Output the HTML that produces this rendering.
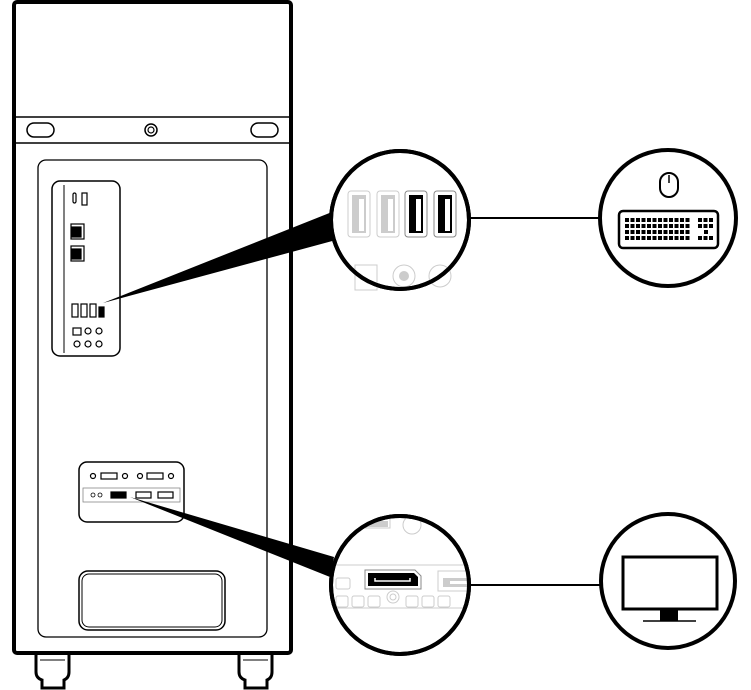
<!DOCTYPE html>
<html><head><style>body{margin:0;background:#fff}svg{display:block}</style></head><body>
<svg width="751" height="690" viewBox="0 0 751 690" xmlns="http://www.w3.org/2000/svg" fill="none" stroke="#000">
<defs><clipPath id="c2"><circle cx="400" cy="585" r="68"/></clipPath></defs>
<!-- wheels -->
<g stroke-width="3" fill="#fff">
<path d="M36 652 v20 q0 6 6 8 v8 h22 v-8 q5 -2 5 -8 v-20 z"/>
<path d="M239 652 v20 q0 6 6 8 v8 h22 v-8 q5 -2 5 -8 v-20 z"/>
</g>
<g stroke-width="1"><line x1="40" y1="660" x2="65" y2="660"/><line x1="243" y1="660" x2="268" y2="660"/></g>
<!-- case -->
<rect x="14" y="2" width="277" height="651" rx="3" stroke-width="4" fill="#fff"/>
<line x1="14" y1="117" x2="291" y2="117" stroke-width="1.5"/>
<line x1="14" y1="143" x2="291" y2="143" stroke-width="1.5"/>
<rect x="27" y="123" width="27" height="14" rx="7" stroke-width="1.5"/>
<rect x="251" y="123" width="27" height="14" rx="7" stroke-width="1.5"/>
<circle cx="151" cy="130" r="6" stroke-width="1.5"/><circle cx="151" cy="130" r="3" stroke-width="1.2"/>
<rect x="38" y="160" width="229" height="477" rx="8" stroke-width="1.3"/>
<!-- io panel -->
<rect x="52" y="181" width="68" height="175" rx="8" stroke-width="1.5"/>
<line x1="64" y1="185" x2="64" y2="353" stroke-width="1"/>
<g stroke-width="1.2">
<rect x="73" y="193" width="3" height="10" rx="1.5"/>
<rect x="82" y="193" width="5" height="12"/>
<rect x="71" y="224" width="13" height="15"/>
<rect x="72" y="227" width="9" height="10" fill="#000"/>
<rect x="71" y="246" width="13" height="15"/>
<rect x="72" y="249" width="9" height="10" fill="#000"/>
<rect x="72" y="304" width="6" height="13"/><rect x="81" y="304" width="6" height="13"/><rect x="90" y="304" width="6" height="13"/><rect x="99" y="307" width="5" height="10" fill="#000"/>
<rect x="73" y="328" width="8" height="7"/>
<circle cx="88" cy="331" r="3"/><circle cx="99" cy="331" r="3"/>
<circle cx="77" cy="344" r="3"/><circle cx="88" cy="344" r="3"/><circle cx="99" cy="344" r="3"/>
</g>
<!-- gpu panel -->
<rect x="79" y="462" width="105" height="60" rx="8" stroke-width="1.5"/>
<rect x="83" y="488" width="97" height="14" stroke-width="0.8" stroke="#888"/>
<g stroke-width="1.2">
<circle cx="93" cy="476" r="2.5"/><rect x="101" y="473" width="16" height="6"/><circle cx="125" cy="476" r="2.5"/>
<circle cx="140" cy="476" r="2.5"/><rect x="147" y="473" width="16" height="6"/><circle cx="171" cy="476" r="2.5"/>
<rect x="111" y="492" width="15" height="6" fill="#000"/><rect x="136" y="492" width="15" height="6"/><rect x="158" y="492" width="15" height="6"/>
</g>
<g stroke-width="0.8"><circle cx="93" cy="495" r="2"/><circle cx="100" cy="495" r="2"/></g>
<rect x="79" y="571" width="146" height="59" rx="9" stroke-width="1.5"/>
<rect x="82" y="574" width="140" height="53" rx="7" stroke-width="1"/>
<!-- wedges -->
<polygon points="103,303 332,212 336,240" fill="#000" stroke="none"/>
<polygon points="130,497 334,557 330,577" fill="#000" stroke="none"/>
<!-- connectors -->
<line x1="470" y1="218" x2="599" y2="218" stroke-width="2"/>
<line x1="469" y1="585" x2="600" y2="585" stroke-width="2"/>
<!-- zoom circle 1 -->
<circle cx="400" cy="220" r="69" fill="#fff" stroke-width="4"/>
<g stroke-width="1" stroke="#ccc">
<rect x="348" y="191" width="22" height="46" rx="3"/><rect x="377" y="191" width="22" height="46" rx="3"/>
<rect x="405" y="191" width="22" height="46" rx="3" stroke="#888"/><rect x="434" y="191" width="22" height="46" rx="3" stroke="#888"/>
<rect x="355" y="265" width="22" height="25"/><circle cx="404" cy="276" r="11"/><circle cx="440" cy="276" r="11"/>
</g>
<rect x="352" y="195" width="14" height="38" fill="#ccc" stroke="none"/><rect x="359" y="199" width="5" height="32" fill="#fff" stroke="none"/>
<rect x="381" y="195" width="14" height="38" fill="#ccc" stroke="none"/><rect x="388" y="199" width="5" height="32" fill="#fff" stroke="none"/>
<rect x="409" y="195" width="14" height="38" fill="#000" stroke="none"/><rect x="416" y="199" width="5" height="32" fill="#fff" stroke="none"/>
<rect x="438" y="195" width="14" height="38" fill="#000" stroke="none"/><rect x="445" y="199" width="5" height="32" fill="#fff" stroke="none"/>
<circle cx="404" cy="276" r="5" fill="#ccc" stroke="none"/>
<circle cx="400" cy="220" r="69" stroke-width="4"/>
<!-- zoom circle 2 -->
<circle cx="400" cy="585" r="69" fill="#fff" stroke-width="4"/>
<g clip-path="url(#c2)">
<g stroke="#ccc" stroke-width="1">
<line x1="334" y1="565" x2="466" y2="565"/><line x1="334" y1="608" x2="466" y2="608"/>
<rect x="336" y="578" width="14" height="11" rx="2"/>
<rect x="336" y="596" width="12" height="11" rx="2"/><rect x="352" y="596" width="12" height="11" rx="2"/><rect x="368" y="596" width="12" height="11" rx="2"/>
<circle cx="393" cy="597" r="6"/><circle cx="393" cy="597" r="3"/>
<rect x="406" y="596" width="12" height="11" rx="2"/><rect x="422" y="596" width="12" height="11" rx="2"/><rect x="438" y="596" width="12" height="11" rx="2"/>
<rect x="438" y="571" width="30" height="20" fill="#fff"/>
<path d="M350 528 h40 v-20" /><circle cx="412" cy="525" r="9"/>
</g>
<path d="M362 521 h26 v6 h-26z" fill="#ccc" stroke="none"/>
</g>
<rect x="443" y="578" width="25" height="9" fill="#ccc" stroke="none"/><rect x="450" y="581" width="18" height="3" fill="#fff" stroke="none"/>
<path d="M365 570 h50 l6 6 v13 h-56 z" stroke="#888" stroke-width="1" fill="#fff"/>
<path d="M368 573 h46 l4 4 v9 h-50 z" fill="#000" stroke="none"/>
<path d="M375 578 v3 h35 v-3" stroke="#fff" stroke-width="1.5"/>
<circle cx="400" cy="585" r="69" stroke-width="4"/>
<!-- keyboard circle -->
<circle cx="668" cy="218" r="68" fill="#fff" stroke-width="4"/>
<rect x="660" y="173" width="18" height="24" rx="9" stroke-width="2"/>
<line x1="669" y1="175" x2="669" y2="183" stroke-width="1.5"/>
<rect x="619" y="211" width="99" height="37" rx="4" stroke-width="2.5"/>
<g stroke-width="4" stroke-dasharray="4 1.5">
<line x1="625" y1="220" x2="690" y2="220"/><line x1="698" y1="220" x2="714" y2="220"/>
<line x1="625" y1="226" x2="690" y2="226"/><line x1="698" y1="226" x2="714" y2="226"/>
<line x1="625" y1="232" x2="690" y2="232"/><line x1="704" y1="232" x2="708" y2="232"/>
<line x1="625" y1="238" x2="690" y2="238"/><line x1="698" y1="238" x2="714" y2="238"/>
</g>
<!-- monitor circle -->
<circle cx="668" cy="581" r="67" fill="#fff" stroke-width="4"/>
<rect x="623" y="557" width="94" height="52" stroke-width="3"/>
<rect x="660" y="610" width="18" height="11" fill="#000" stroke="none"/>
<line x1="643" y1="621" x2="696" y2="621" stroke-width="1.5"/>
</svg>
</body></html>
